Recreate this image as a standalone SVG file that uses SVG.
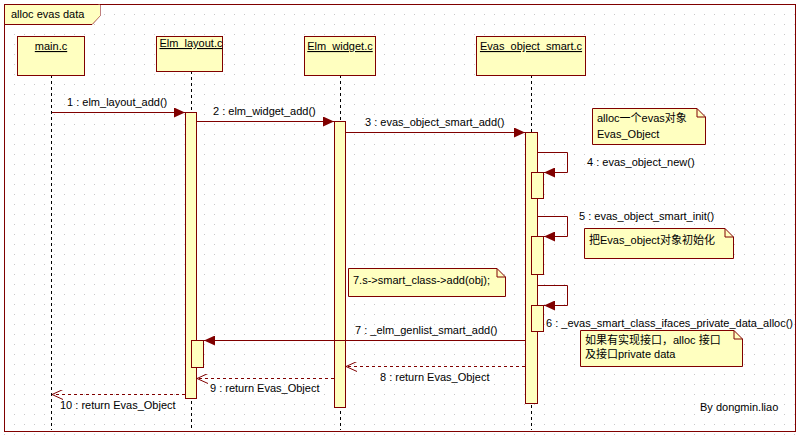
<svg xmlns="http://www.w3.org/2000/svg" width="801" height="436" viewBox="0 0 801 436">
<defs>
<pattern id="dots" width="10" height="10" patternUnits="userSpaceOnUse"><rect x="4" y="4" width="1" height="1" fill="#c8c8c8"/></pattern>
<marker id="fa" markerWidth="12" markerHeight="10" refX="11" refY="5" orient="auto" markerUnits="userSpaceOnUse"><path d="M0,0 L11,5 L0,10 Z" fill="#800000"/></marker>
<marker id="oa" markerWidth="12" markerHeight="10" refX="11" refY="5" orient="auto" markerUnits="userSpaceOnUse"><path d="M0,0 L11,5 L0,10" fill="none" stroke="#800000"/></marker>
<style>
text{font-family:"Liberation Sans",Arial,"Noto Sans CJK SC",sans-serif;font-size:11px;fill:#000}
.box{fill:#ffffc0;stroke:#800000;stroke-width:1}
.life{stroke:#000;stroke-dasharray:3,3}
.msg{stroke:#800000;fill:none}
.ret{stroke:#800000;fill:none;stroke-dasharray:3,3}
.lbl{fill:#000}
</style>
</defs>
<rect width="801" height="436" fill="#fff"/>
<rect width="801" height="436" fill="url(#dots)"/>
<g id="frame">
<rect x="4.5" y="4.5" width="791" height="427" fill="none" stroke="#800000"/>
<path d="M4.5,24.5 H92 L100,16 V4.5" fill="#ffffc0" stroke="#800000"/>
<path d="M5,5 H100 V16 L92,24 H5 Z" fill="#ffffc0"/>
<text x="11" y="18">alloc evas data</text>
</g>
<g id="lifelines">
<line class="life" x1="51.5" y1="75" x2="51.5" y2="430"/>
<line class="life" x1="191.5" y1="71" x2="191.5" y2="430"/>
<line class="life" x1="340.5" y1="75" x2="340.5" y2="430"/>
<line class="life" x1="531.5" y1="75" x2="531.5" y2="430"/>
</g>
<g id="main"><rect class="box" x="17.5" y="36.5" width="67" height="39"/><text x="51" y="50" text-anchor="middle" text-decoration="underline">main.c</text></g>
<g id="layout"><rect class="box" x="156.5" y="36.5" width="66" height="35"/><text x="191" y="47" text-anchor="middle" text-decoration="underline">Elm_layout.c</text></g>
<g id="widget"><rect class="box" x="304.5" y="36.5" width="71" height="39"/><text x="340" y="50" text-anchor="middle" text-decoration="underline">Elm_widget.c</text></g>
<g id="smart"><rect class="box" x="476.5" y="36.5" width="109" height="39"/><text x="531" y="50" text-anchor="middle" text-decoration="underline">Evas_object_smart.c</text></g>
<g id="activations">
<rect class="box" x="185.5" y="112.5" width="11" height="286"/>
<rect class="box" x="191.5" y="340.5" width="12" height="27"/>
<rect class="box" x="334.5" y="121.5" width="11" height="286"/>
<rect class="box" x="525.5" y="132.5" width="12" height="271"/>
<rect class="box" x="531.5" y="172.5" width="12" height="26"/>
<rect class="box" x="531.5" y="236.5" width="12" height="38"/>
<rect class="box" x="531.5" y="305.5" width="12" height="26"/>
</g>
<g id="connectors">
<line class="msg" x1="52" y1="112.5" x2="185" y2="112.5" marker-end="url(#fa)"/>
<line class="msg" x1="197" y1="121.5" x2="334" y2="121.5" marker-end="url(#fa)"/>
<line class="msg" x1="346" y1="132.5" x2="525" y2="132.5" marker-end="url(#fa)"/>
<path class="msg" d="M538,152.5 H567.5 V172.5 H544" marker-end="url(#fa)"/>
<path class="msg" d="M538,216.5 H567.5 V236.5 H544" marker-end="url(#fa)"/>
<path class="msg" d="M538,285.5 H567.5 V305.5 H544" marker-end="url(#fa)"/>
<line class="msg" x1="525" y1="340.5" x2="204" y2="340.5" marker-end="url(#fa)"/>
<line class="ret" x1="525" y1="366.5" x2="346" y2="366.5" marker-end="url(#oa)"/>
<line class="ret" x1="334" y1="378.5" x2="197" y2="378.5" marker-end="url(#oa)"/>
<line class="ret" x1="185" y1="394.5" x2="52" y2="394.5" marker-end="url(#oa)"/>
</g>
<g id="labels">
<text x="67" y="106">1 : elm_layout_add()</text>
<text x="213" y="115">2 : elm_widget_add()</text>
<text x="365" y="126">3 : evas_object_smart_add()</text>
<text x="587" y="166">4 : evas_object_new()</text>
<text x="579" y="220">5 : evas_object_smart_init()</text>
<text x="546" y="327">6 : _evas_smart_class_ifaces_private_data_alloc()</text>
<text x="355" y="334">7 : _elm_genlist_smart_add()</text>
<text x="380" y="381">8 : return Evas_Object</text>
<text x="210" y="392">9 : return Evas_Object</text>
<text x="60" y="409">10 : return Evas_Object</text>
<text x="700" y="411">By dongmin.liao</text>
</g>
<g id="note1"><path class="box" d="M592.5,108.5 H697 L705.5,117 V144.5 H592.5 Z"/><path d="M697,108.5 V117 H705.5" fill="none" stroke="#800000"/><text x="597" y="122">alloc一个evas对象</text><text x="597" y="138">Evas_Object</text></g>
<g id="note2"><path class="box" d="M584.5,228.5 H725 L733.5,237 V258.5 H584.5 Z"/><path d="M725,228.5 V237 H733.5" fill="none" stroke="#800000"/><text x="589" y="244">把Evas_object对象初始化</text></g>
<g id="note3"><path class="box" d="M348.5,268.5 H497 L505.5,277 V296.5 H348.5 Z"/><path d="M497,268.5 V277 H505.5" fill="none" stroke="#800000"/><text x="353" y="284">7.s-&gt;smart_class-&gt;add(obj);</text></g>
<g id="note4"><path class="box" d="M580.5,330.5 H734 L742.5,339 V366.5 H580.5 Z"/><path d="M734,330.5 V339 H742.5" fill="none" stroke="#800000"/><text x="585" y="344">如果有实现接口，alloc 接口</text><text x="585" y="358">及接口private data</text></g>
</svg>
